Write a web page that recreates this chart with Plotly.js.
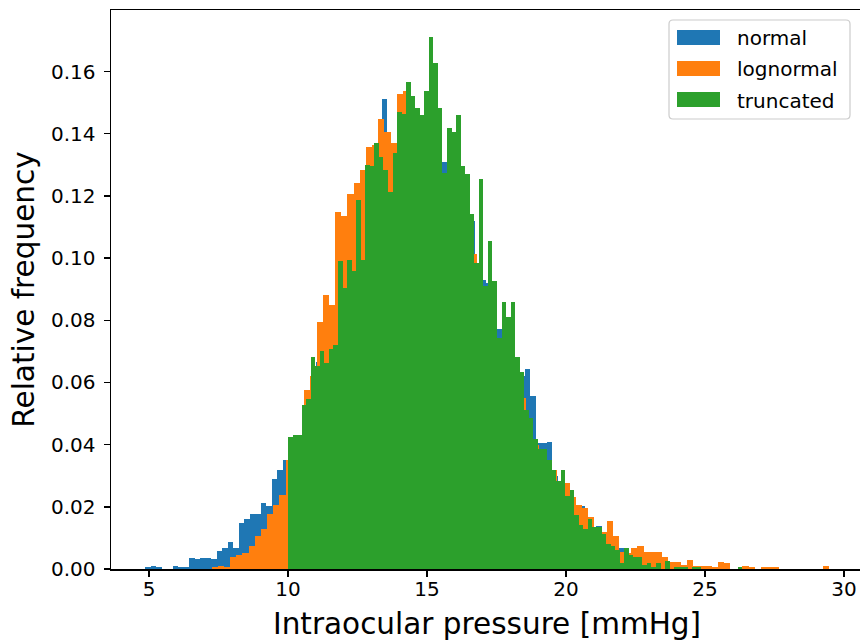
<!DOCTYPE html>
<html>
<head>
<meta charset="utf-8">
<script src="https://cdn.plot.ly/plotly-3.0.1.min.js"></script>
<style>
html, body { margin: 0; padding: 0; overflow: hidden; background: #fff; }
#chart { width: 864px; height: 644px; }
</style>
</head>
<body>
<div id="chart"></div>
<script>
// ---- data (relative frequency per bin, 100 bins per series) ----
const seriesNames = ["normal", "lognormal", "truncated"];

const normalBinStart = 4.860;
const normalBinWidth = 0.1979;
const normalValues = [
  0.0006, 0.0010, 0.0006, 0.0000, 0.0000, 0.0010, 0.0006, 0.0006, 0.0035, 0.0032,
  0.0035, 0.0035, 0.0032, 0.0058, 0.0067, 0.0087, 0.0067, 0.0148, 0.0161, 0.0177,
  0.0177, 0.0212, 0.0202, 0.0289, 0.0318, 0.0350, 0.0400, 0.0410, 0.0420, 0.0520,
  0.0580, 0.0665, 0.0660, 0.0750, 0.0800, 0.0900, 0.0950, 0.1000, 0.1100, 0.1150,
  0.1180, 0.1250, 0.1300, 0.1513, 0.1350, 0.1330, 0.1400, 0.1450, 0.1450, 0.1400,
  0.1420, 0.1450, 0.1500, 0.1450, 0.1308, 0.1300, 0.1280, 0.1250, 0.1220, 0.1120,
  0.0970, 0.0929, 0.0920, 0.0919, 0.0771, 0.0790, 0.0780, 0.0678, 0.0620, 0.0643,
  0.0556, 0.0405, 0.0405, 0.0408, 0.0300, 0.0270, 0.0250, 0.0230, 0.0190, 0.0202,
  0.0160, 0.0130, 0.0138, 0.0110, 0.0100, 0.0080, 0.0067, 0.0050, 0.0040, 0.0030,
  0.0020, 0.0013, 0.0010, 0.0010, 0.0006, 0.0006, 0.0000, 0.0006, 0.0000, 0.0010
];

const lognormalBinStart = 7.251;
const lognormalBinWidth = 0.2220;
const lognormalValues = [
  0.0008, 0.0011, 0.0008, 0.0040, 0.0045, 0.0051, 0.0074, 0.0106, 0.0128, 0.0177,
  0.0206, 0.0238, 0.0350, 0.0380, 0.0420, 0.0575, 0.0620, 0.0794, 0.0880, 0.0848,
  0.1147, 0.1137, 0.1205, 0.1243, 0.1282, 0.1356, 0.1365, 0.1446, 0.1404, 0.1369,
  0.1529, 0.1536, 0.1420, 0.1400, 0.1380, 0.1360, 0.1300, 0.1200, 0.1180, 0.1150,
  0.1120, 0.1080, 0.1012, 0.0950, 0.0880, 0.0850, 0.0720, 0.0700, 0.0680, 0.0620,
  0.0549, 0.0460, 0.0400, 0.0370, 0.0340, 0.0318, 0.0270, 0.0276, 0.0230, 0.0206,
  0.0196, 0.0167, 0.0130, 0.0120, 0.0154, 0.0106, 0.0055, 0.0050, 0.0067, 0.0074,
  0.0055, 0.0055, 0.0055, 0.0039, 0.0022, 0.0022, 0.0013, 0.0029, 0.0010, 0.0010,
  0.0010, 0.0006, 0.0022, 0.0019, 0.0000, 0.0000, 0.0010, 0.0006, 0.0000, 0.0006,
  0.0006, 0.0006, 0.0000, 0.0000, 0.0000, 0.0000, 0.0000, 0.0000, 0.0000, 0.0010
];

const truncatedBinStart = 10.0;
const truncatedBinWidth = 0.1634;
const truncatedValues = [
  0.0424, 0.0431, 0.0431, 0.0527, 0.0546, 0.0681, 0.0653, 0.0700, 0.0662, 0.0707,
  0.0720, 0.0990, 0.0904, 0.0993, 0.0957, 0.1186, 0.0993, 0.1301, 0.1295, 0.1369,
  0.1324, 0.1282, 0.1214, 0.1337, 0.1471, 0.1465, 0.1565, 0.1523, 0.1484, 0.1459,
  0.1539, 0.1712, 0.1626, 0.1484, 0.1275, 0.1417, 0.1404, 0.1459, 0.1295, 0.1269,
  0.1141, 0.0983, 0.1253, 0.0910, 0.1054, 0.0925, 0.0743, 0.0858, 0.0810, 0.0858,
  0.0681, 0.0633, 0.0511, 0.0485, 0.0418, 0.0386, 0.0386, 0.0350, 0.0318, 0.0283,
  0.0318, 0.0235, 0.0254, 0.0173, 0.0141, 0.0129, 0.0161, 0.0135, 0.0135, 0.0112,
  0.0080, 0.0074, 0.0061, 0.0019, 0.0067, 0.0045, 0.0039, 0.0039, 0.0013, 0.0019,
  0.0006, 0.0019, 0.0000, 0.0026, 0.0000, 0.0006, 0.0006, 0.0006, 0.0000, 0.0006,
  0.0006, 0.0000, 0.0000, 0.0000, 0.0000, 0.0000, 0.0000, 0.0000, 0.0000, 0.0006
];

const xTickValues = [5, 10, 15, 20, 25, 30];
const yTickValues = [0.00, 0.02, 0.04, 0.06, 0.08, 0.10, 0.12, 0.14, 0.16];
const xTitle = "Intraocular pressure [mmHg]";
const yTitle = "Relative frequency";

// ---- build traces ----
const colors = ["#1f77b4", "#ff7f0e", "#2ca02c"];
function edges(start, width, n) {
  const e = [];
  for (let i = 0; i < n; i++) e.push(start + i * width);
  return e;
}
function barTrace(name, values, start, width, color) {
  return {
    type: "bar",
    name: name,
    x: edges(start, width, values.length),
    y: values,
    width: width,
    offset: 0,
    marker: { color: color, line: { width: 0 } },
    showlegend: false,
    hoverinfo: "x+y+name"
  };
}
const traces = [
  barTrace(seriesNames[0], normalValues, normalBinStart, normalBinWidth, colors[0]),
  barTrace(seriesNames[1], lognormalValues, lognormalBinStart, lognormalBinWidth, colors[1]),
  barTrace(seriesNames[2], truncatedValues, truncatedBinStart, truncatedBinWidth, colors[2])
];

// ---- layout ----
const W = 864, H = 644;
const M = { l: 111, r: 1, t: 10, b: 75 };
const pw = W - M.l - M.r, ph = H - M.t - M.b;
const px2x = p => (p - M.l) / pw;
const py2y = p => (H - M.b - p) / ph;

const font = "DejaVu Sans, Arial, sans-serif";
const shapes = [];
const annotations = [];

// legend box (rounded)
(function () {
  const x0 = 669, x1 = 850, y0 = 20, y1 = 119, r = 4;
  const path = `M ${x0 + r},${y0} L ${x1 - r},${y0} Q ${x1},${y0} ${x1},${y0 + r} ` +
    `L ${x1},${y1 - r} Q ${x1},${y1} ${x1 - r},${y1} L ${x0 + r},${y1} Q ${x0},${y1} ${x0},${y1 - r} ` +
    `L ${x0},${y0 + r} Q ${x0},${y0} ${x0 + r},${y0} Z`;
  const conv = path.replace(/(-?\d+(\.\d+)?),(-?\d+(\.\d+)?)/g, (m, a, _b, c) =>
    px2x(+a).toFixed(5) + "," + py2y(+c).toFixed(5));
  shapes.push({
    type: "path", xref: "paper", yref: "paper", path: conv,
    fillcolor: "rgba(255,255,255,0.8)", line: { color: "#cccccc", width: 1.2 }, layer: "above"
  });
  const rows = [37.5, 68.5, 99.5];
  rows.forEach((cy, i) => {
    shapes.push({
      type: "rect", xref: "paper", yref: "paper",
      x0: px2x(677), x1: px2x(720), y0: py2y(cy - 7.5), y1: py2y(cy + 7.5),
      fillcolor: colors[i], line: { width: 0 }, layer: "above"
    });
    annotations.push({
      xref: "paper", yref: "paper", x: px2x(735), y: py2y(cy + 1),
      xanchor: "left", yanchor: "middle", showarrow: false,
      text: seriesNames[i], font: { family: font, size: 20, color: "#000" }
    });
  });
})();

const layout = {
  width: W, height: H,
  margin: { l: M.l, r: M.r, t: M.t, b: M.b, pad: 0 },
  paper_bgcolor: "#fff", plot_bgcolor: "#fff",
  barmode: "overlay",
  bargap: 0,
  font: { family: font, color: "#000" },
  showlegend: false,
  xaxis: {
    range: [3.633, 30.68],
    tickvals: xTickValues,
    ticktext: xTickValues.map(String),
    ticks: "outside", ticklen: 6, tickwidth: 1.5, tickcolor: "#000",
    showline: true, linecolor: "#000", linewidth: 1.5, mirror: true,
    showgrid: false, zeroline: false,
    tickfont: { family: font, size: 20, color: "#000" },
    ticklabelstandoff: -5,
    title: { text: xTitle, font: { family: font, size: 29.5, color: "#000" }, standoff: 14 }
  },
  yaxis: {
    range: [0, 0.1798],
    tickvals: yTickValues,
    ticktext: yTickValues.map(v => v.toFixed(2)),
    ticks: "outside", ticklen: 6, tickwidth: 1.5, tickcolor: "#000",
    showline: true, linecolor: "#000", linewidth: 1.5, mirror: true,
    showgrid: false, zeroline: false,
    tickfont: { family: font, size: 20, color: "#000" },
    ticklabelstandoff: 4,
    title: { text: yTitle, font: { family: font, size: 29.5, color: "#000" }, standoff: 7 }
  },
  shapes: shapes,
  annotations: annotations
};

Plotly.newPlot("chart", traces, layout, { displayModeBar: false, staticPlot: true });
</script>
</body>
</html>
